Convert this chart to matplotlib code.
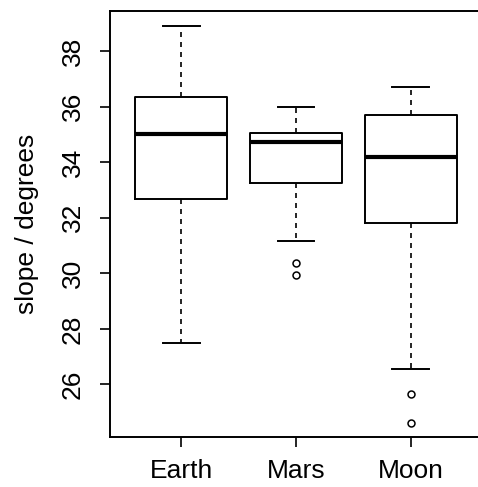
import matplotlib
matplotlib.use("Agg")
import matplotlib.pyplot as plt

# boxplot summary
groups = ["Earth", "Mars", "Moon"]
whislo = [27.5, 31.15, 26.55]
q1 = [32.68, 33.25, 31.8]
med = [35.0, 34.72, 34.2]
q3 = [36.33, 35.05, 35.7]
whishi = [38.9, 36.0, 36.7]
fliers = [[], [30.37, 29.95], [25.65, 24.62]]
yticks = [26, 28, 30, 32, 34, 36, 38]

plt.rcParams['font.family'] = ['Liberation Sans', 'DejaVu Sans']

stats = []
for i, g in enumerate(groups):
    stats.append({'label': g, 'whislo': whislo[i], 'q1': q1[i], 'med': med[i],
                  'q3': q3[i], 'whishi': whishi[i], 'fliers': fliers[i]})

fig = plt.figure(figsize=(4.78, 4.87), dpi=100)
ax = fig.add_axes([110/478, 50/487, 372/478, 426/487])

ax.bxp(stats, positions=[1, 2, 3], widths=0.8, showfliers=True,
       boxprops=dict(color='black', linewidth=1.4),
       medianprops=dict(color='black', linewidth=3.0),
       whiskerprops=dict(color='black', linewidth=1.2, linestyle=(0, (3, 3))),
       capprops=dict(color='black', linewidth=1.4),
       capwidths=0.32,
       flierprops=dict(marker='o', markerfacecolor='none', markeredgecolor='black',
                       markersize=5, markeredgewidth=1.1))

ax.set_xlim(0.38, 3.62)
ax.set_ylim(24.11, 39.44)
ax.set_yticks(yticks)
ax.set_yticklabels([str(t) for t in yticks], rotation=90, va='center')
ax.set_xticks([1, 2, 3])
ax.set_xticklabels(groups)
ax.tick_params(axis='both', length=7.2, width=1.2, labelsize=19, colors='black')
ax.tick_params(axis='y', pad=11)
ax.tick_params(axis='x', pad=9)
ax.set_ylabel("slope / degrees", fontsize=19)
ax.yaxis.set_label_coords(-0.192, 0.5)
for s in ax.spines.values():
    s.set_linewidth(1.4)

fig.savefig("out.png", dpi=100)
